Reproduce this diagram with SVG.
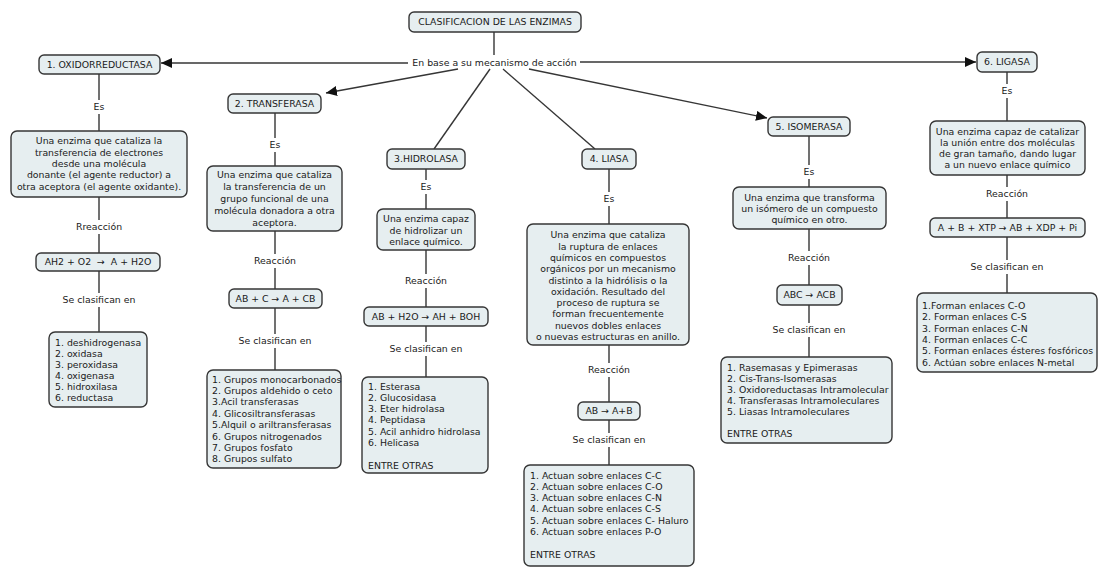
<svg xmlns="http://www.w3.org/2000/svg" width="1100" height="572" viewBox="0 0 1100 572">
<style>
.box{fill:#e6eef0;stroke:#363636;stroke-width:1.4}
text{font-family:"DejaVu Sans",Verdana,sans-serif;font-size:9.35px;fill:#1a1a1a}
.c{text-anchor:middle}
.pre{white-space:pre}
.ln{stroke:#363636;stroke-width:1.4;fill:none}
</style>
<defs>
<marker id="arr" markerUnits="userSpaceOnUse" markerWidth="12" markerHeight="10" refX="11" refY="5" orient="auto">
<path d="M0,0 L11,5 L0,10 z" fill="#111"/>
</marker>
</defs>
<rect width="1100" height="572" fill="#fff"/>

<g id="connectors">
<line class="ln" x1="494" y1="32" x2="494" y2="55"/>
<line class="ln" x1="408" y1="63" x2="161" y2="63" marker-end="url(#arr)"/>
<line class="ln" x1="580" y1="62" x2="976" y2="62" marker-end="url(#arr)"/>
<line class="ln" x1="458" y1="69" x2="326" y2="93" marker-end="url(#arr)"/>
<line class="ln" x1="490" y1="69" x2="434" y2="149"/>
<line class="ln" x1="503" y1="69" x2="595" y2="149"/>
<line class="ln" x1="529" y1="69" x2="767" y2="118" marker-end="url(#arr)"/>
<!-- col1 -->
<path class="ln" d="M99,74V100M99,114V131M99,197V220M99,234V253M99,271V293M99,307V332"/>
<text class="c" x="99" y="110.3">Es</text>
<text class="c" x="99" y="230.3">Rreacción</text>
<text class="c" x="99" y="303.3">Se clasifican en</text>
<!-- col2 -->
<path class="ln" d="M275,113V138M275,152V166M275,231V254M275,268V289M275,308V334M275,348V370"/>
<text class="c" x="275" y="148.3">Es</text>
<text class="c" x="275" y="264.3">Reacción</text>
<text class="c" x="275" y="344.3">Se clasifican en</text>
<!-- col3 -->
<path class="ln" d="M426,169V180M426,194V209M426,250V274M426,288V307M426,326V342M426,356V377"/>
<text class="c" x="426" y="190.3">Es</text>
<text class="c" x="426" y="284.3">Reacción</text>
<text class="c" x="426" y="352.3">Se clasifican en</text>
<!-- col4 -->
<path class="ln" d="M609,169V192M609,206V224M609,345V363M609,377V402M609,420V433M609,447V465"/>
<text class="c" x="609" y="202.3">Es</text>
<text class="c" x="609" y="373.3">Reacción</text>
<text class="c" x="609" y="443.3">Se clasifican en</text>
<!-- col5 -->
<path class="ln" d="M809,136V165M809,179V187M809,229V251M809,265V285M809,305V323M809,337V357"/>
<text class="c" x="809" y="175.3">Es</text>
<text class="c" x="809" y="261.3">Reacción</text>
<text class="c" x="809" y="333.3">Se clasifican en</text>
<!-- col6 -->
<path class="ln" d="M1007,72V84M1007,98V121M1007,175V187M1007,201V218M1007,237V260M1007,274V293"/>
<text class="c" x="1007" y="94.3">Es</text>
<text class="c" x="1007" y="197.3">Reacción</text>
<text class="c" x="1007" y="270.3">Se clasifican en</text>
</g>

<g id="title">
<rect class="box" x="409" y="12" width="172" height="20" rx="5"/>
<text class="c" x="495" y="25.3">CLASIFICACION DE LAS ENZIMAS</text>
</g>
<g id="mechanism">
<text class="c" x="494.5" y="65.5">En base a su mecanismo de acción</text>
</g>

<g id="n1">
<rect class="box" x="39" y="55" width="121" height="19" rx="5"/>
<text class="c" x="99.5" y="67.8">1. OXIDORREDUCTASA</text>
</g>
<g id="n1-desc">
<rect class="box" x="11" y="131" width="176" height="66" rx="6"/>
<text class="c"><tspan x="99" y="144.3">Una enzima que cataliza la</tspan><tspan x="99" y="155.6">transferencia de electrones</tspan><tspan x="99" y="166.9">desde una molécula</tspan><tspan x="99" y="178.2">donante (el agente reductor) a</tspan><tspan x="99" y="189.5">otra aceptora (el agente oxidante).</tspan></text>
</g>
<g id="n1-rx">
<rect class="box" x="36" y="253" width="124" height="18" rx="5"/>
<text class="c pre" x="98" y="265.3">AH2 + O2  →  A + H2O</text>
</g>
<g id="n1-list">
<rect class="box" x="49" y="332" width="98" height="75" rx="6"/>
<text><tspan x="55" y="346">1. deshidrogenasa</tspan><tspan x="55" y="357">2. oxidasa</tspan><tspan x="55" y="368">3. peroxidasa</tspan><tspan x="55" y="379">4. oxigenasa</tspan><tspan x="55" y="390">5. hidroxilasa</tspan><tspan x="55" y="401">6. reductasa</tspan></text>
</g>

<g id="n2">
<rect class="box" x="228" y="94" width="93" height="19" rx="5"/>
<text class="c" x="274.5" y="106.8">2. TRANSFERASA</text>
</g>
<g id="n2-desc">
<rect class="box" x="207" y="166" width="135" height="65" rx="6"/>
<text class="c"><tspan x="274.5" y="178.3">Una enzima que cataliza</tspan><tspan x="274.5" y="190.1">la transferencia de un</tspan><tspan x="274.5" y="201.9">grupo funcional de una</tspan><tspan x="274.5" y="213.7">molécula donadora a otra</tspan><tspan x="274.5" y="225.5">aceptora.</tspan></text>
</g>
<g id="n2-rx">
<rect class="box" x="229" y="289" width="93" height="19" rx="5"/>
<text class="c" x="275.5" y="301.8">AB + C → A + CB</text>
</g>
<g id="n2-list">
<rect class="box" x="207" y="370" width="134" height="98" rx="6"/>
<text><tspan x="212" y="382.5">1. Grupos monocarbonados</tspan><tspan x="212" y="393.9">2. Grupos aldehido o ceto</tspan><tspan x="212" y="405.3">3.Acil transferasas</tspan><tspan x="212" y="416.7">4. Glicosiltransferasas</tspan><tspan x="212" y="428.1">5.Alquil o ariltransferasas</tspan><tspan x="212" y="439.5">6. Grupos nitrogenados</tspan><tspan x="212" y="450.9">7. Grupos fosfato</tspan><tspan x="212" y="462.3">8. Grupos sulfato</tspan></text>
</g>

<g id="n3">
<rect class="box" x="387" y="149" width="78" height="20" rx="5"/>
<text class="c" x="426" y="162.3">3.HIDROLASA</text>
</g>
<g id="n3-desc">
<rect class="box" x="377" y="209" width="98" height="41" rx="6"/>
<text class="c"><tspan x="426" y="222.3">Una enzima capaz</tspan><tspan x="426" y="233.8">de hidrolizar un</tspan><tspan x="426" y="245.3">enlace químico.</tspan></text>
</g>
<g id="n3-rx">
<rect class="box" x="364" y="307" width="124" height="19" rx="5"/>
<text class="c" x="426" y="319.8">AB + H2O → AH + BOH</text>
</g>
<g id="n3-list">
<rect class="box" x="362" y="377" width="126" height="96" rx="6"/>
<text><tspan x="368" y="389.5">1. Esterasa</tspan><tspan x="368" y="400.8">2. Glucosidasa</tspan><tspan x="368" y="412.1">3. Eter hidrolasa</tspan><tspan x="368" y="423.4">4. Peptidasa</tspan><tspan x="368" y="434.7">5. Acil anhidro hidrolasa</tspan><tspan x="368" y="446">6. Helicasa</tspan><tspan x="368" y="468.6">ENTRE OTRAS</tspan></text>
</g>

<g id="n4">
<rect class="box" x="582" y="149" width="54" height="20" rx="5"/>
<text class="c" x="609" y="162.3">4. LIASA</text>
</g>
<g id="n4-desc">
<rect class="box" x="527" y="224" width="162" height="121" rx="6"/>
<text class="c"><tspan x="608" y="238.3">Una enzima que cataliza</tspan><tspan x="608" y="249.6">la ruptura de enlaces</tspan><tspan x="608" y="260.9">químicos en compuestos</tspan><tspan x="608" y="272.2">orgánicos por un mecanismo</tspan><tspan x="608" y="283.5">distinto a la hidrólisis o la</tspan><tspan x="608" y="294.8">oxidación. Resultado del</tspan><tspan x="608" y="306.1">proceso de ruptura se</tspan><tspan x="608" y="317.4">forman frecuentemente</tspan><tspan x="608" y="328.7">nuevos dobles enlaces</tspan><tspan x="608" y="340">o nuevas estructuras en anillo.</tspan></text>
</g>
<g id="n4-rx">
<rect class="box" x="578" y="402" width="62" height="18" rx="5"/>
<text class="c" x="609" y="414.3">AB → A+B</text>
</g>
<g id="n4-list">
<rect class="box" x="524" y="465" width="170" height="101" rx="6"/>
<text><tspan x="530" y="478.5">1. Actuan sobre enlaces C-C</tspan><tspan x="530" y="489.8">2. Actuan sobre enlaces C-O</tspan><tspan x="530" y="501.1">3. Actuan sobre enlaces C-N</tspan><tspan x="530" y="512.4">4. Actuan sobre enlaces C-S</tspan><tspan x="530" y="523.7">5. Actuan sobre enlaces C- Haluro</tspan><tspan x="530" y="535">6. Actuan sobre enlaces P-O</tspan><tspan x="530" y="557.6">ENTRE OTRAS</tspan></text>
</g>

<g id="n5">
<rect class="box" x="768" y="117" width="82" height="19" rx="5"/>
<text class="c" x="809" y="129.8">5. ISOMERASA</text>
</g>
<g id="n5-desc">
<rect class="box" x="733" y="187" width="153" height="42" rx="6"/>
<text class="c"><tspan x="809.5" y="201.3">Una enzima que transforma</tspan><tspan x="809.5" y="212.3">un isómero de un compuesto</tspan><tspan x="809.5" y="223.3">químico en otro.</tspan></text>
</g>
<g id="n5-rx">
<rect class="box" x="777" y="285" width="65" height="20" rx="5"/>
<text class="c" x="809.5" y="298.3">ABC → ACB</text>
</g>
<g id="n5-list">
<rect class="box" x="721" y="357" width="171" height="86" rx="6"/>
<text><tspan x="727" y="371.3">1. Rasemasas y Epimerasas</tspan><tspan x="727" y="382.3">2. Cis-Trans-Isomerasas</tspan><tspan x="727" y="393.3">3. Oxidoreductasas Intramolecular</tspan><tspan x="727" y="404.3">4. Transferasas Intramoleculares</tspan><tspan x="727" y="415.3">5. Liasas Intramoleculares</tspan><tspan x="727" y="437.3">ENTRE OTRAS</tspan></text>
</g>

<g id="n6">
<rect class="box" x="977" y="52" width="60" height="20" rx="5"/>
<text class="c" x="1007" y="65.3">6. LIGASA</text>
</g>
<g id="n6-desc">
<rect class="box" x="930" y="121" width="155" height="54" rx="6"/>
<text class="c"><tspan x="1007.5" y="135">Una enzima capaz de catalizar</tspan><tspan x="1007.5" y="146">la unión entre dos moléculas</tspan><tspan x="1007.5" y="157">de gran tamaño, dando lugar</tspan><tspan x="1007.5" y="168">a un nuevo enlace químico</tspan></text>
</g>
<g id="n6-rx">
<rect class="box" x="930" y="218" width="155" height="19" rx="5"/>
<text class="c" x="1007.5" y="230.8">A + B + XTP → AB + XDP + Pi</text>
</g>
<g id="n6-list">
<rect class="box" x="917" y="293" width="180" height="79" rx="6"/>
<text><tspan x="922" y="309">1.Forman enlaces C-O</tspan><tspan x="922" y="320.3">2. Forman enlaces C-S</tspan><tspan x="922" y="331.6">3. Forman enlaces C-N</tspan><tspan x="922" y="342.9">4. Forman enlaces C-C</tspan><tspan x="922" y="354.2">5. Forman enlaces ésteres fosfóricos</tspan><tspan x="922" y="365.5">6. Actúan sobre enlaces N-metal</tspan></text>
</g>
</svg>
